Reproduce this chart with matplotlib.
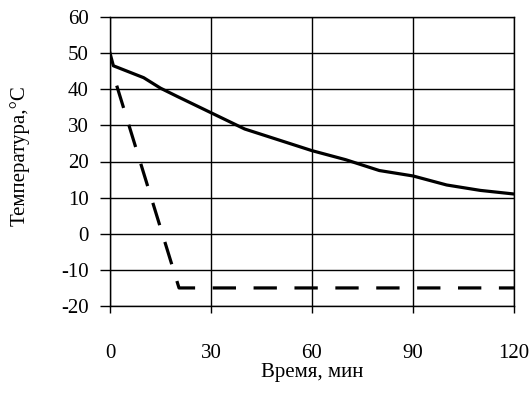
import matplotlib.pyplot as plt

# Данные
t_solid = [0, 1, 10, 15, 20, 30, 40, 50, 60, 70, 80, 90, 100, 110, 120]
temp_solid = [50, 46.5, 43.2, 40.3, 38, 33.5, 29, 26, 23, 20.5, 17.5, 16, 13.5, 12, 11]

t_dash = [2, 20.5, 120]
temp_dash = [41, -15, -15]

x_ticks = [0, 30, 60, 90, 120]
y_ticks = [-20, -10, 0, 10, 20, 30, 40, 50, 60]

plt.rcParams["font.family"] = ["Liberation Serif", "DejaVu Serif"]
plt.rcParams["axes.unicode_minus"] = False

fig = plt.figure(figsize=(5.32, 3.96), dpi=100)
ax = fig.add_axes([110 / 532, 1 - 306 / 396, 404 / 532, 289 / 396])

ax.plot(t_solid, temp_solid, color="black", lw=2.3, solid_joinstyle="round")
ax.plot(t_dash, temp_dash, color="black", lw=2.3, dashes=(7.3, 5.5), dash_capstyle="butt")

ax.set_xlim(0, 120)
ax.set_ylim(-20, 60)
ax.set_xticks(x_ticks)
ax.set_yticks(y_ticks)
ax.grid(True, color="black", lw=1)
for s in ax.spines.values():
    s.set_color("black")
    s.set_linewidth(1)

ax.tick_params(axis="x", direction="out", length=5.2, width=1, pad=22, labelsize=15)
ax.tick_params(axis="y", direction="out", length=7.2, width=1, pad=8, labelsize=15)

ax.set_xlabel("Время, мин", fontsize=15, labelpad=0)
ax.set_ylabel("Температура,°С", fontsize=15, labelpad=10)
ax.yaxis.set_label_coords(-0.2, 0.52)

fig.savefig("out.png", dpi=100)
